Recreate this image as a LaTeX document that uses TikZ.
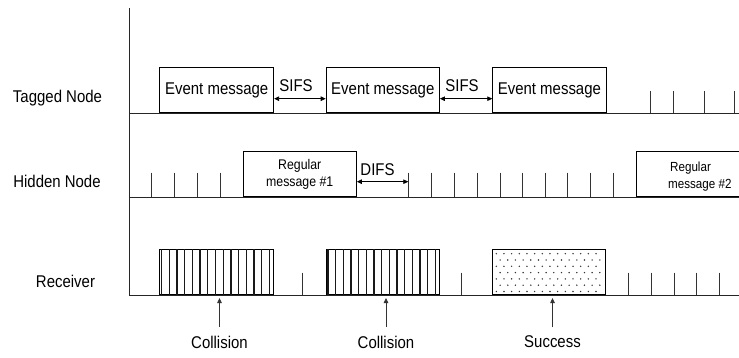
\documentclass[tikz,border=0pt]{standalone}
\usepackage{fontspec}
\setmainfont{Liberation Sans}[FakeStretch=0.88]
\usetikzlibrary{arrows.meta}

\begin{document}
\begin{tikzpicture}[x=1pt,y=-1pt,
  big/.style={font=\fontsize{17}{20}\selectfont, inner sep=1pt},
  small/.style={font=\fontsize{14}{17}\selectfont, align=center, inner sep=0pt},
  axis/.style={line width=0.8pt, black!85},
  tick/.style={line width=0.8pt, black!80},
  msgbox/.style={draw, line width=0.8pt, anchor=south west, inner sep=0pt,
                 minimum height=44.7pt},
  stripe/.style={line width=1.3pt, black!90},
  tip/.style={-{Triangle[length=5pt,width=4.5pt]}, line width=0.8pt, black!80},
  span/.style={{Triangle[length=5pt,width=4.5pt]}-{Triangle[length=5pt,width=4.5pt]},
               line width=0.8pt}
]
\path[use as bounding box, clip] (0,0) rectangle (739,358);

% time axes
\coordinate (ytop) at (129,8);
\coordinate (o) at (129,295);
\coordinate (tagL) at (129,113);
\coordinate (hidL) at (129,197);
\coordinate (tagR) at (739,113);
\coordinate (hidR) at (739,197);
\coordinate (rcvR) at (739,295);
\draw[axis] (ytop) -- (o) -- (rcvR);
\draw[axis] (tagL) -- (tagR);
\draw[axis] (hidL) -- (hidR);

% row labels
\node[big] (lt) at (57.5,98.5) {Tagged Node};
\node[big] (lh) at (57,181.5) {Hidden Node};
\node[big] (lr) at (65.5,281.5) {Receiver};

% tagged node: three event messages separated by SIFS
\node[msgbox, big, minimum width=114pt]   (ev1) at (159.3,113) {Event message};
\node[msgbox, big, minimum width=113.4pt] (ev2) at (325.7,113) {Event message};
\node[msgbox, big, minimum width=113.4pt] (ev3) at (492.3,113) {Event message};
\draw[span] ([yshift=14.3pt]ev1.south east) -- ([yshift=14.3pt]ev2.south west);
\draw[span] ([yshift=14.3pt]ev2.south east) -- ([yshift=14.3pt]ev3.south west);
\node[big] (sifs1) at (296,86) {SIFS};
\node[big] (sifs2) at (462,86) {SIFS};
\foreach \x in {650.7,673.3,704,734.3}
  \draw[tick] (\x,91) -- (\x,113);

% hidden node: back-off slots and regular messages
\foreach \x in {151.7,174.3,197.3,220,408.3,431.7,454.3,477.3,500,522.7,545,567.7,590.3,613.3}
  \draw[tick] (\x,172.7) -- (\x,197);
\node[msgbox, small, minimum width=113.3pt, minimum height=45.3pt] (reg1) at (242.7,197)
  {Regular\\message \#1};
\coordinate (difsEnd) at (408.3,181.7);
\draw[span] (reg1.east |- difsEnd) -- (difsEnd);
\node[big] (difs) at (377.5,169.5) {DIFS};
\node[msgbox, minimum width=120pt, minimum height=45.3pt] (reg2) at (636,197) {};
\node[small, font=\fontsize{13.2}{16.5}\selectfont, align=left, anchor=west] (reg2t) at (668,176.5)
  {\hspace*{2pt}Regular\\message \#2};

% receiver: collisions and one success
\node[msgbox, minimum width=114pt, minimum height=45pt] (rc1) at (159.3,295) {};
\node[msgbox, minimum width=113.4pt, minimum height=45pt] (rc2) at (325.5,295) {};
\foreach \b in {rc1,rc2}
  \foreach \i in {0,...,14}
    \draw[stripe] ([xshift=2.4pt+\i*7.685pt]\b.south west) -- ([xshift=2.4pt+\i*7.685pt]\b.north west);
\node[msgbox, minimum width=113pt, minimum height=45pt] (ok) at (492.3,295) {};
\foreach \j in {0,...,6}
  \foreach \i in {0,...,13} {
    \pgfmathsetmacro{\dx}{4+\i*7.67+mod(\j,2)*3.8}
    \fill[black!80] ([xshift=\dx pt, yshift=3.5pt+\j*6.3pt]ok.south west) circle (0.8pt);
  }
\foreach \x in {302.7,461.7,628.3,651,674,696.7,719}
  \draw[tick] (\x,272.5) -- (\x,295);

% outcome labels
\node[big] (c1) at (219.5,342) {Collision};
\node[big] (c2) at (386,342) {Collision};
\node[big] (s1) at (552.5,342) {Success};
\foreach \n in {c1,c2,s1}
  \draw[tip] ([yshift=7.5pt]\n.north) -- ([yshift=-3pt]\n.north |- o);
\end{tikzpicture}
\end{document}
